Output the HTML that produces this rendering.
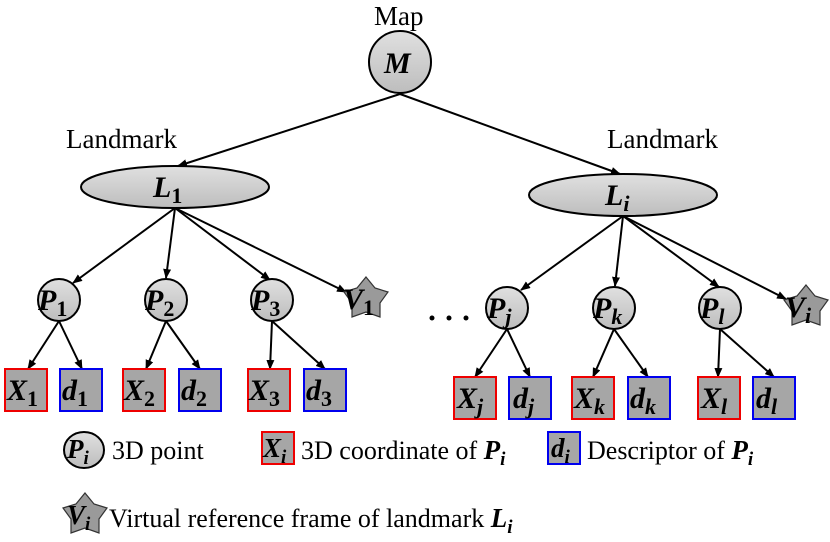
<!DOCTYPE html>
<html><head><meta charset="utf-8"><style>html,body{margin:0;padding:0;background:#fff}svg{display:block}</style></head>
<body>
<svg width="830" height="542" viewBox="0 0 830 542" xmlns="http://www.w3.org/2000/svg" font-family="'Liberation Serif', serif">
<defs>
<linearGradient id="g" x1="0" y1="0" x2="0" y2="1"><stop offset="0" stop-color="#e0e0e0"/><stop offset="1" stop-color="#bdbdbd"/></linearGradient>
<marker id="a" markerWidth="10" markerHeight="8" refX="9" refY="4" orient="auto" markerUnits="userSpaceOnUse"><path d="M0,0 L10,4 L0,8 z" fill="#000"/></marker>
</defs>
<g stroke="#000" stroke-width="2" marker-end="url(#a)">
<line x1="400" y1="94" x2="178" y2="166"/>
<line x1="400" y1="94" x2="620" y2="174"/>
<line x1="175" y1="208" x2="73" y2="283"/>
<line x1="175" y1="208" x2="166" y2="278"/>
<line x1="175" y1="208" x2="270" y2="280"/>
<line x1="175" y1="208" x2="346" y2="292"/>
<line x1="623" y1="216" x2="521" y2="290"/>
<line x1="623" y1="216" x2="615" y2="286"/>
<line x1="623" y1="216" x2="719" y2="287"/>
<line x1="623" y1="216" x2="786" y2="299"/>
<line x1="59" y1="321" x2="28" y2="369"/>
<line x1="59" y1="321" x2="82" y2="369"/>
<line x1="166" y1="321" x2="146" y2="369"/>
<line x1="166" y1="321" x2="200" y2="369"/>
<line x1="272" y1="321" x2="270" y2="369"/>
<line x1="272" y1="321" x2="325" y2="369"/>
<line x1="507" y1="329" x2="475" y2="377"/>
<line x1="507" y1="329" x2="530" y2="377"/>
<line x1="614" y1="329" x2="593" y2="377"/>
<line x1="614" y1="329" x2="648" y2="377"/>
<line x1="720" y1="329" x2="718" y2="377"/>
<line x1="720" y1="329" x2="774" y2="377"/>
</g>
<g font-size="27" fill="#000">
<text x="374" y="25">Map</text>
<text x="66" y="148">Landmark</text>
<text x="607" y="148">Landmark</text>
</g>
<g stroke="#000" stroke-width="2" fill="url(#g)">
<ellipse cx="400" cy="62" rx="31" ry="31"/>
<ellipse cx="175" cy="187" rx="94" ry="21"/>
<ellipse cx="623" cy="195" rx="94" ry="21"/>
<circle cx="59" cy="300" r="21"/>
<circle cx="166" cy="300" r="21"/>
<circle cx="272" cy="300" r="21"/>
<circle cx="507" cy="308" r="21"/>
<circle cx="614" cy="308" r="21"/>
<circle cx="720" cy="308" r="21"/>
<ellipse cx="84" cy="450" rx="20" ry="18"/>
</g>
<g stroke="#333" stroke-width="1.2" fill="#9a9a9a">
<polygon points="366,277 375,288 388,292 380,303 380,317 366,312 352,317 352,303 344,292 357,288"/>
<polygon points="806,285 815,296 828,300 820,311 820,325 806,320 792,325 792,311 784,300 797,296"/>
<polygon points="85,493 94,504 107,508 99,519 99,533 85,528 71,533 71,519 63,508 76,504"/>
</g>
<g stroke-width="2" fill="#a6a6a6">
<rect x="5" y="369" width="42" height="42" stroke="#e00"/>
<rect x="60" y="369" width="42" height="42" stroke="#00e"/>
<rect x="123" y="369" width="42" height="42" stroke="#e00"/>
<rect x="179" y="369" width="42" height="42" stroke="#00e"/>
<rect x="248" y="369" width="42" height="42" stroke="#e00"/>
<rect x="304" y="369" width="42" height="42" stroke="#00e"/>
<rect x="454" y="377" width="42" height="42" stroke="#e00"/>
<rect x="509" y="377" width="42" height="42" stroke="#00e"/>
<rect x="572" y="377" width="42" height="42" stroke="#e00"/>
<rect x="628" y="377" width="42" height="42" stroke="#00e"/>
<rect x="698" y="377" width="42" height="42" stroke="#e00"/>
<rect x="753" y="377" width="42" height="42" stroke="#00e"/>
<rect x="262" y="432" width="32" height="32" stroke="#e00"/>
<rect x="548" y="432" width="32" height="32" stroke="#00e"/>
</g>
<g font-weight="bold" font-style="italic" fill="#000" font-size="30">
<text x="384" y="73">M</text>
<text x="153" y="197">L<tspan font-size="22" dy="6" font-style="normal">1</tspan></text>
<text x="605" y="205">L<tspan font-size="22" dy="6">i</tspan></text>
<text x="38" y="310">P<tspan font-size="22" dy="6" font-style="normal">1</tspan></text>
<text x="145" y="310">P<tspan font-size="22" dy="6" font-style="normal">2</tspan></text>
<text x="251" y="310">P<tspan font-size="22" dy="6" font-style="normal">3</tspan></text>
<text x="343" y="309">V<tspan font-size="22" dy="6" font-style="normal">1</tspan></text>
<text x="487" y="318">P<tspan font-size="22" dy="6">j</tspan></text>
<text x="593" y="318">P<tspan font-size="22" dy="6">k</tspan></text>
<text x="700" y="318">P<tspan font-size="22" dy="6">l</tspan></text>
<text x="785" y="317">V<tspan font-size="22" dy="6">i</tspan></text>
<text x="7" y="400">X<tspan font-size="22" dy="6" font-style="normal">1</tspan></text>
<text x="62" y="400">d<tspan font-size="22" dy="6" font-style="normal">1</tspan></text>
<text x="124" y="400">X<tspan font-size="22" dy="6" font-style="normal">2</tspan></text>
<text x="181" y="400">d<tspan font-size="22" dy="6" font-style="normal">2</tspan></text>
<text x="249" y="400">X<tspan font-size="22" dy="6" font-style="normal">3</tspan></text>
<text x="306" y="400">d<tspan font-size="22" dy="6" font-style="normal">3</tspan></text>
<text x="457" y="408">X<tspan font-size="22" dy="6">j</tspan></text>
<text x="513" y="408">d<tspan font-size="22" dy="6">j</tspan></text>
<text x="574" y="408">X<tspan font-size="22" dy="6">k</tspan></text>
<text x="630" y="408">d<tspan font-size="22" dy="6">k</tspan></text>
<text x="701" y="408">X<tspan font-size="22" dy="6">l</tspan></text>
<text x="756" y="408">d<tspan font-size="22" dy="6">l</tspan></text>
<text x="67" y="458" font-size="27">P<tspan font-size="19" dy="6">i</tspan></text>
<text x="263" y="457" font-size="27">X<tspan font-size="19" dy="6">i</tspan></text>
<text x="551" y="457" font-size="27">d<tspan font-size="19" dy="6">i</tspan></text>
<text x="67" y="524" font-size="27">V<tspan font-size="19" dy="6">i</tspan></text>
</g>
<g fill="#000"><circle cx="432" cy="318" r="2.5"/><circle cx="449" cy="318" r="2.5"/><circle cx="466" cy="318" r="2.5"/></g>
<g font-size="26" fill="#000">
<text x="112" y="459">3D point</text>
<text x="301" y="459">3D coordinate of <tspan font-weight="bold" font-style="italic" font-size="27">P</tspan><tspan font-weight="bold" font-style="italic" font-size="19" dy="6">i</tspan></text>
<text x="587" y="459">Descriptor of <tspan font-weight="bold" font-style="italic" font-size="27">P</tspan><tspan font-weight="bold" font-style="italic" font-size="19" dy="6">i</tspan></text>
<text x="109" y="527">Virtual reference frame of  landmark <tspan font-weight="bold" font-style="italic" font-size="27">L</tspan><tspan font-weight="bold" font-style="italic" font-size="19" dy="6">i</tspan></text>
</g>
</svg>
</body></html>
